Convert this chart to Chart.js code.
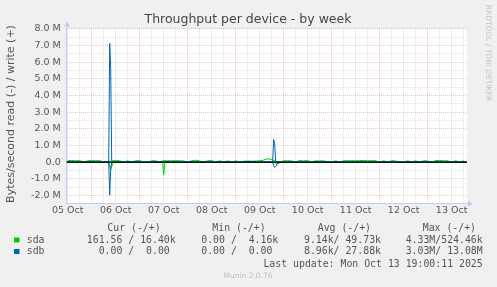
<!DOCTYPE html>
<html>
<head>
<meta charset="utf-8">
<script src="https://cdn.jsdelivr.net/npm/chart.js@4.4.1/dist/chart.umd.min.js"></script>
<style>
  html, body { margin: 0; padding: 0; background: #f0f0f0; }
  canvas { display: block; }
</style>
</head>
<body>
<canvas id="throughput" width="497" height="287"></canvas>
<script>
// x = hours since 05 Oct 00:00, y = MB/s (read drawn negative, write positive)
const dayLabels = ["05 Oct", "06 Oct", "07 Oct", "08 Oct", "09 Oct", "10 Oct", "11 Oct", "12 Oct", "13 Oct"];
const yTickValues = [-2, -1.5, -1, -0.5, 0, 0.5, 1, 1.5, 2, 2.5, 3, 3.5, 4, 4.5, 5, 5.5, 6, 6.5, 7, 7.5, 8];

// sda write, one sample every 2 hours from 05 Oct 12:00
const sdaWriteStart = 12;
const sdaWriteStep = 2;
const sdaWrite = [
  0.09, 0.10, 0.08, 0.09, 0.00, 0.08, 0.09, 0.08, 0.09, 0.00,
  0.00, 0.08, 0.09, 0.08, 0.00, 0.08, 0.00, 0.08, 0.09, 0.00,
  0.00, 0.08, 0.08, 0.00, 0.09, 0.08, 0.08, 0.09, 0.08, 0.07,
  0.00, 0.08, 0.11, 0.07, 0.00, 0.08, 0.09, 0.00, 0.08, 0.00,
  0.08, 0.00, 0.08, 0.00, 0.05, 0.06, 0.05, 0.06, 0.08, 0.12,
  0.20, 0.16, 0.04, 0.00, 0.08, 0.08, 0.07, 0.00, 0.10, 0.07,
  0.10, 0.00, 0.08, 0.07, 0.08, 0.00, 0.00, 0.08, 0.00, 0.08,
  0.08, 0.09, 0.08, 0.09, 0.10, 0.08, 0.09, 0.08, 0.00, 0.08,
  0.00, 0.08, 0.07, 0.00, 0.00, 0.08, 0.00, 0.08, 0.00, 0.08,
  0.07, 0.00, 0.09, 0.10, 0.08, 0.08, 0.00, 0.08, 0.00, 0.08
];

const sdaReadHours = [11.5, 32.5, 33.5, 34.5, 35.5, 59.5, 60, 60.5, 61, 115.5, 116.5, 117.5, 118.5, 211.7];
const sdaRead = [0, 0, -0.45, -0.08, 0, 0, -0.78, -0.1, 0, 0, -0.1, -0.08, 0, 0];

const sdbWriteHours = [11.5, 32.5, 33, 33.5, 34, 34.5, 99.5, 100, 106, 106.5, 114.5, 115, 115.5, 116, 116.5, 211.7];
const sdbWrite = [0, 0, 7.12, 5.6, 0.1, 0, 0, 0.04, 0.04, 0, 0, 1.36, 1.1, 0.05, 0, 0];

const sdbReadHours = [11.5, 32.5, 33, 33.5, 34, 114.5, 115, 115.5, 116.5, 117, 211.7];
const sdbRead = [0, 0, -1.98, -0.4, 0, 0, -0.2, -0.32, -0.2, 0, 0];

const legendHead = ["Cur (-/+)", "Min (-/+)", "Avg (-/+)", "Max (-/+)"];
const sdaStats = ["161.56 / 16.40k", "0.00 /  4.16k", "9.14k/ 49.73k", "4.33M/524.46k"];
const sdbStats = ["0.00 /  0.00 ", "0.00 /  0.00 ", "8.96k/ 27.88k", "3.03M/ 13.08M"];

const GREEN = "#00cc00";
const BLUE = "#0066b3";
const MGRID = "rgba(225, 110, 110, 0.42)";
const GRID = "rgba(160, 160, 160, 0.3)";
const AXIS = "#c4c8f0";

function pairs(xs, ys) {
  return ys.map((y, i) => ({ x: xs[i], y: y }));
}

const sdaWritePts = sdaWrite.map((y, i) => ({ x: sdaWriteStart + i * sdaWriteStep, y: y }));

function line(data, color, order) {
  return {
    data: data,
    borderColor: color,
    borderWidth: 1,
    pointRadius: 0,
    tension: 0,
    fill: false,
    order: order,
  };
}

// --- munin style decorations ---
const muninDecor = {
  id: "muninDecor",
  beforeDraw(chart) {
    const { ctx, chartArea: a } = chart;
    ctx.save();
    ctx.fillStyle = "#ffffff";
    ctx.fillRect(a.left, a.top, a.right - a.left, a.bottom - a.top);
    ctx.restore();
  },
  afterDatasetsDraw(chart) {
    const { ctx, chartArea: a } = chart;
    const y0 = chart.scales.y.getPixelForValue(0);
    ctx.save();
    ctx.strokeStyle = "#000000";
    ctx.lineWidth = 1.2;
    ctx.beginPath();
    ctx.moveTo(a.left, y0);
    ctx.lineTo(a.right, y0);
    ctx.stroke();

    // axis arrows
    ctx.strokeStyle = AXIS;
    ctx.fillStyle = AXIS;
    ctx.lineWidth = 1;
    ctx.beginPath();
    ctx.moveTo(a.left + 0.5, a.top);
    ctx.lineTo(a.left + 0.5, a.top - 4);
    ctx.moveTo(a.right, a.bottom + 0.5);
    ctx.lineTo(a.right + 3, a.bottom + 0.5);
    ctx.stroke();
    ctx.beginPath();
    ctx.moveTo(a.left + 0.5, a.top - 7);
    ctx.lineTo(a.left - 2.5, a.top - 2);
    ctx.lineTo(a.left + 3.5, a.top - 2);
    ctx.closePath();
    ctx.fill();
    ctx.beginPath();
    ctx.moveTo(a.right + 6, a.bottom + 0.5);
    ctx.lineTo(a.right + 1, a.bottom - 2.5);
    ctx.lineTo(a.right + 1, a.bottom + 3.5);
    ctx.closePath();
    ctx.fill();
    ctx.restore();
  },
  afterDraw(chart) {
    const ctx = chart.ctx;
    ctx.save();

    // title
    ctx.fillStyle = "#444";
    ctx.font = "12.5px 'DejaVu Sans'";
    ctx.textAlign = "center";
    ctx.textBaseline = "alphabetic";
    ctx.fillText("Throughput per device - by week", 248, 22.5);

    // vertical axis title
    ctx.save();
    ctx.translate(11, 114);
    ctx.rotate(-Math.PI / 2);
    ctx.font = "11px 'DejaVu Sans'";
    ctx.fillStyle = "#555";
    ctx.textBaseline = "middle";
    ctx.fillText("Bytes/second read (-) / write (+)", 0, 0);
    ctx.restore();

    // watermark
    ctx.save();
    ctx.translate(487.5, 53);
    ctx.rotate(Math.PI / 2);
    ctx.font = "7.5px 'DejaVu Sans'";
    ctx.fillStyle = "#c4c4c4";
    ctx.textBaseline = "middle";
    ctx.fillText("RRDTOOL / TOBI OETIKER", 0, 0);
    ctx.restore();

    // legend
    ctx.font = "9.85px 'DejaVu Sans Mono'";
    ctx.fillStyle = "#555";
    ctx.textBaseline = "middle";
    ctx.textAlign = "left";
    const headX = [107.3, 212.3, 317.7, 422.7];
    legendHead.forEach((t, i) => ctx.fillText(t, headX[i], 228));

    const colRight = [175.7, 278.3, 381, 482.7];
    const rows = [
      { name: "sda", color: GREEN, stats: sdaStats, y: 240 },
      { name: "sdb", color: BLUE, stats: sdbStats, y: 251.5 },
    ];
    rows.forEach((r) => {
      ctx.fillStyle = r.color;
      ctx.fillRect(14, r.y - 2.5, 5.5, 5);
      ctx.fillStyle = "#555";
      ctx.textAlign = "left";
      ctx.fillText(r.name, 26.7, r.y);
      ctx.textAlign = "right";
      r.stats.forEach((s, i) => ctx.fillText(s, colRight[i], r.y));
    });

    ctx.textAlign = "right";
    ctx.fillText("Last update: Mon Oct 13 19:00:11 2025", 482.7, 264);

    ctx.font = "7.5px 'DejaVu Sans'";
    ctx.fillStyle = "#c0c0c0";
    ctx.textAlign = "center";
    ctx.fillText("Munin 2.0.76", 248, 276.5);
    ctx.restore();
  },
};

const tickFont = { family: "DejaVu Sans", size: 9.5 };

new Chart(document.getElementById("throughput"), {
  type: "line",
  data: {
    datasets: [
      line(pairs(sdaReadHours, sdaRead), GREEN, 2),
      line(sdaWritePts, GREEN, 2),
      line(pairs(sdbReadHours, sdbRead), BLUE, 1),
      line(pairs(sdbWriteHours, sdbWrite), BLUE, 1),
    ],
  },
  options: {
    responsive: false,
    animation: false,
    devicePixelRatio: 1,
    layout: { padding: { left: 0, top: 28.7, right: 30, bottom: 63.7 } },
    plugins: {
      legend: { display: false },
      tooltip: { enabled: false },
      title: { display: false },
    },
    scales: {
      x: {
        type: "linear",
        min: 11.5,
        max: 211.7,
        afterBuildTicks: (s) => {
          const t = [];
          for (let h = 12; h <= 210; h += 6) t.push({ value: h });
          s.ticks = t;
        },
        afterFit: (s) => { s.height = 20; },
        ticks: {
          autoSkip: false,
          maxRotation: 0,
          padding: 2,
          color: "#555",
          font: tickFont,
          callback: (v) => (v % 24 === 12 ? dayLabels[(v - 12) / 24] : ""),
        },
        grid: {
          drawTicks: false,
          color: (c) => (c.tick && c.tick.value % 24 === 0 ? MGRID : GRID),
        },
        border: { color: AXIS, width: 1, dash: [1, 1] },
      },
      y: {
        min: -2.47,
        max: 8.0,
        afterBuildTicks: (s) => { s.ticks = yTickValues.map((v) => ({ value: v })); },
        afterFit: (s) => { s.width = 66.7; },
        ticks: {
          autoSkip: false,
          padding: 6,
          color: "#555",
          font: tickFont,
          callback: (v) => (v === 0 ? "0.0" : Number.isInteger(v) ? v.toFixed(1) + " M" : ""),
        },
        grid: {
          drawTicks: false,
          color: (c) => (c.tick && Number.isInteger(c.tick.value) ? MGRID : GRID),
        },
        border: { color: AXIS, width: 1, dash: [1, 1] },
      },
    },
  },
  plugins: [muninDecor],
});
</script>
</body>
</html>
